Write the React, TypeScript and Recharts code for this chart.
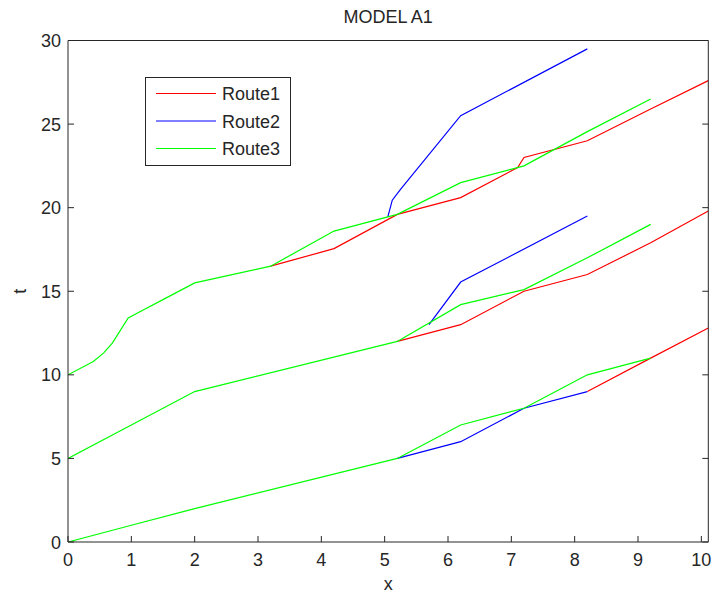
import { LineChart, Line, XAxis, YAxis, Legend, Label } from "recharts";

const FONT = "'Liberation Sans', Arial, Helvetica, sans-serif";
const AXIS = "#262626";

const xTicks = [0, 1, 2, 3, 4, 5, 6, 7, 8, 9, 10];
const tTicks = [0, 5, 10, 15, 20, 25, 30];
const X_MAX = 10.11;

// [x, t] pairs, one array per trip segment
const route1Low = [[8.2, 9], [9.2, 11], [10.11, 12.8]];
const route1Mid = [[5.2, 12], [6.2, 13], [7.2, 15], [8.2, 16], [9.2, 17.9], [10.11, 19.8]];
const route1Top = [[3.2, 16.5], [4.2, 17.55], [5.2, 19.6], [6.2, 20.6], [7.1, 22.4], [7.2, 23], [8.2, 24], [9.2, 25.9], [10.11, 27.6]];

const route2Low = [[5.2, 5], [6.2, 6], [7.2, 8], [8.2, 9]];
const route2Mid = [[5.7, 13], [6.2, 15.55], [8.2, 19.5]];
const route2Top = [[5.05, 19.45], [5.12, 20.45], [5.25, 21.1], [6.2, 25.5], [8.2, 29.5]];

const route3Low = [[0, 0], [1, 1], [2, 2], [5.2, 5], [6.2, 7], [7.2, 8], [8.2, 10], [9.2, 11]];
const route3Mid = [[0, 5], [1, 7], [2, 9], [5.2, 12], [6.2, 14.2], [7.2, 15.1], [8.2, 17], [9.2, 19]];
const route3Top = [[0, 10], [0.4, 10.8], [0.56, 11.3], [0.7, 11.9], [0.95, 13.4], [1.15, 13.8], [1.5, 14.5], [2, 15.5], [3.2, 16.5], [4.2, 18.6], [5.2, 19.6], [6.2, 21.5], [7.2, 22.5], [8.2, 24.55], [9.2, 26.5]];

const routes = [
  { name: "Route1", color: "#ff0000", segments: [route1Low, route1Mid, route1Top] },
  { name: "Route2", color: "#0000ff", segments: [route2Low, route2Mid, route2Top] },
  { name: "Route3", color: "#00ff00", segments: [route3Low, route3Mid, route3Top] },
];

const toPoints = (seg: number[][]) => seg.map(([x, t]) => ({ x, t }));

const textStyle = { fontFamily: FONT, fontSize: 18, fill: "#262626" };

function BottomTick({ x, y, payload }: any) {
  return (
    <g>
      <line x1={x} y1={y} x2={x} y2={y - 6} stroke={AXIS} />
      <text x={x} y={y + 24} textAnchor="middle" {...textStyle}>
        {payload.value}
      </text>
    </g>
  );
}

function TopTick({ x, y }: any) {
  return <line x1={x} y1={y} x2={x} y2={y + 6} stroke={AXIS} />;
}

function LeftTick({ x, y, payload }: any) {
  return (
    <g>
      <line x1={x} y1={y} x2={x + 6} y2={y} stroke={AXIS} />
      <text x={x - 7} y={y + 6.5} textAnchor="end" {...textStyle}>
        {payload.value}
      </text>
    </g>
  );
}

function RightTick({ x, y }: any) {
  return <line x1={x} y1={y} x2={x - 6} y2={y} stroke={AXIS} />;
}

function BoxLegend() {
  return (
    <svg width={147} height={90} style={{ display: "block" }}>
      <rect x={0.5} y={0.5} width={145} height={88} fill="#fff" stroke={AXIS} />
      {routes.map((r, i) => {
        const cy = 16.5 + i * 27.5;
        return (
          <g key={r.name}>
            <line x1={11} y1={cy} x2={71} y2={cy} stroke={r.color} strokeWidth={1.2} />
            <text x={77} y={cy + 6.5} {...textStyle}>
              {r.name}
            </text>
          </g>
        );
      })}
    </svg>
  );
}

export default function App() {
  return (
    <div style={{ position: "absolute", left: 0, top: 0, background: "#fff" }}>
      <LineChart
        width={712}
        height={597}
        margin={{ top: 39.5, right: 2.7, bottom: 54, left: 67 }}
      >
        <XAxis
          dataKey="x"
          type="number"
          domain={[0, X_MAX]}
          ticks={xTicks}
          interval={0}
          allowDataOverflow
          height={1}
          tickSize={0}
          tickMargin={0}
          tickLine={false}
          axisLine={{ stroke: AXIS }}
          tick={<BottomTick />}
        >
          <Label
            content={(p: any) => {
              const vb = p.viewBox || {};
              return (
                <text x={vb.x + vb.width / 2} y={590} textAnchor="middle" {...textStyle}>
                  x
                </text>
              );
            }}
          />
        </XAxis>
        <XAxis
          xAxisId="top"
          orientation="top"
          type="number"
          domain={[0, X_MAX]}
          ticks={xTicks}
          interval={0}
          allowDataOverflow
          height={1}
          tickSize={0}
          tickMargin={0}
          tickLine={false}
          axisLine={{ stroke: AXIS }}
          tick={<TopTick />}
        >
          <Label
            content={(p: any) => {
              const vb = p.viewBox || {};
              return (
                <text x={vb.x + vb.width / 2} y={23} textAnchor="middle" {...textStyle}>
                  MODEL A1
                </text>
              );
            }}
          />
        </XAxis>
        <YAxis
          type="number"
          domain={[0, 30]}
          ticks={tTicks}
          interval={0}
          allowDataOverflow
          width={1}
          tickSize={0}
          tickMargin={0}
          tickLine={false}
          axisLine={{ stroke: AXIS }}
          tick={<LeftTick />}
        >
          <Label
            content={(p: any) => {
              const vb = p.viewBox || {};
              const cy = vb.y + vb.height / 2;
              return (
                <text
                  x={26}
                  y={cy}
                  textAnchor="middle"
                  transform={`rotate(-90, 26, ${cy})`}
                  {...textStyle}
                >
                  t
                </text>
              );
            }}
          />
        </YAxis>
        <YAxis
          yAxisId="right"
          orientation="right"
          type="number"
          domain={[0, 30]}
          ticks={tTicks}
          interval={0}
          allowDataOverflow
          width={1}
          tickSize={0}
          tickMargin={0}
          tickLine={false}
          axisLine={{ stroke: AXIS }}
          tick={<RightTick />}
        />
        <Legend
          layout="horizontal"
          verticalAlign="middle"
          align="center"
          wrapperStyle={{ left: 145, top: 77, width: 147, height: 90 }}
          content={() => <BoxLegend />}
        />
        {routes.flatMap((r) =>
          r.segments.map((seg, i) => (
            <Line
              key={`${r.name}-${i}`}
              data={toPoints(seg)}
              dataKey="t"
              name={r.name}
              type="linear"
              stroke={r.color}
              strokeWidth={1.2}
              dot={false}
              activeDot={false}
              legendType="none"
              isAnimationActive={false}
            />
          ))
        )}
      </LineChart>
    </div>
  );
}
